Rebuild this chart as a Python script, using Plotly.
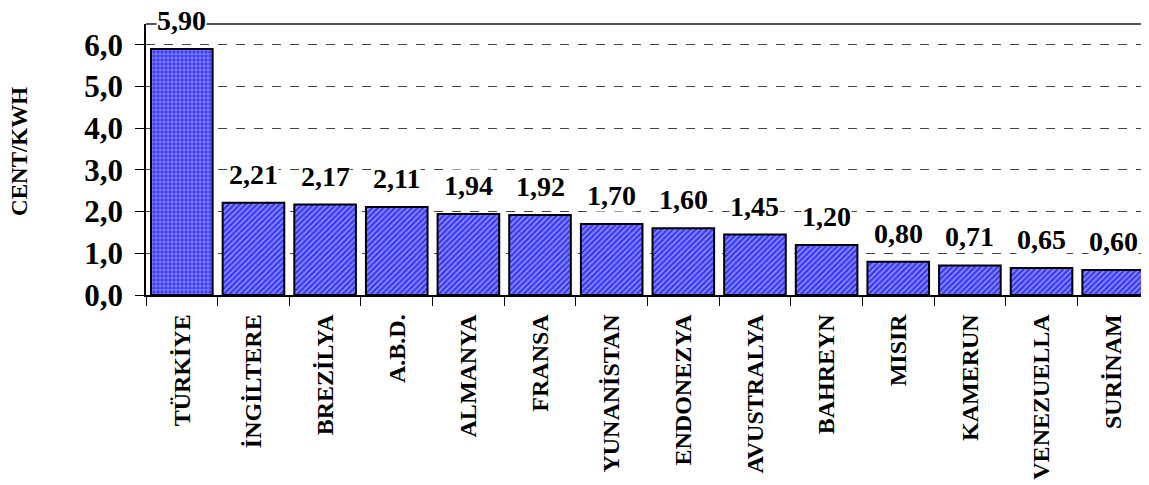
import plotly.graph_objects as go

countries = ["TÜRKİYE", "İNGİLTERE", "BREZİLYA", "A.B.D.", "ALMANYA", "FRANSA",
             "YUNANİSTAN", "ENDONEZYA", "AVUSTRALYA", "BAHREYN", "MISIR",
             "KAMERUN", "VENEZUELLA", "SURİNAM"]
values = [5.90, 2.21, 2.17, 2.11, 1.94, 1.92, 1.70, 1.60, 1.45, 1.20, 0.80, 0.71, 0.65, 0.60]
labels = ["5,90", "2,21", "2,17", "2,11", "1,94", "1,92", "1,70", "1,60", "1,45",
          "1,20", "0,80", "0,71", "0,65", "0,60"]
ytick_vals = [0, 1, 2, 3, 4, 5, 6]
ytick_text = ["0,0", "1,0", "2,0", "3,0", "4,0", "5,0", "6,0"]

FONT = "Liberation Serif"
shapes = ["+"] + ["/"] * (len(countries) - 1)

fig = go.Figure()
fig.add_trace(go.Bar(
    x=countries, y=values,
    marker=dict(
        color="#3a3aff",
        line=dict(color="black", width=2),
        pattern=dict(shape=shapes, fgcolor="white", bgcolor="#3a3aff",
                     size=4, solidity=0.35, fillmode="overlay"),
    ),
    hoverinfo="skip",
))

for c, v, t in zip(countries, values, labels):
    fig.add_annotation(x=c, y=v, text="<b>%s</b>" % t, showarrow=False,
                       yanchor="bottom", yshift=12, bgcolor="white",
                       borderpad=0,
                       font=dict(family=FONT, size=28, color="black"))

fig.add_annotation(xref="paper", yref="paper", x=-0.1256, y=0.528,
                   text="<b>CENT/KWH</b>", textangle=-90, showarrow=False,
                   xanchor="center", yanchor="middle",
                   font=dict(family=FONT, size=23, color="black"))

fig.update_layout(
    width=1141, height=477,
    margin=dict(l=138, r=0, t=16, b=190, autoexpand=False),
    plot_bgcolor="white", paper_bgcolor="white",
    bargap=0.14,
    showlegend=False,
    font=dict(family=FONT, color="black"),
)
fig.update_xaxes(
    type="category",
    tickangle=-90,
    tickfont=dict(family=FONT, size=24, color="black"),
    tickprefix="<b>", ticksuffix="</b>",
    ticks="outside", ticklen=9, tickcolor="black", tickwidth=1,
    tickson="boundaries",
    ticklabelstandoff=8,
    showline=True, linecolor="black", linewidth=1.5,
    mirror=False,
    automargin=False,
)
fig.update_yaxes(
    range=[0, 6.5],
    tickvals=ytick_vals, ticktext=["<b>%s</b>" % t for t in ytick_text],
    tickfont=dict(family=FONT, size=31, color="black"),
    ticks="outside", ticklen=9, tickcolor="black",
    ticklabelstandoff=6,
    showline=True, linecolor="black", linewidth=1.5,
    showgrid=True, gridcolor="#444444", griddash="dash", gridwidth=1,
    zeroline=False,
    automargin=False,
)
# top border line of plot area
fig.add_shape(type="line", xref="paper", yref="paper", x0=0, x1=1, y0=1, y1=1,
              line=dict(color="#555555", width=2))

fig.write_html("out.html")
